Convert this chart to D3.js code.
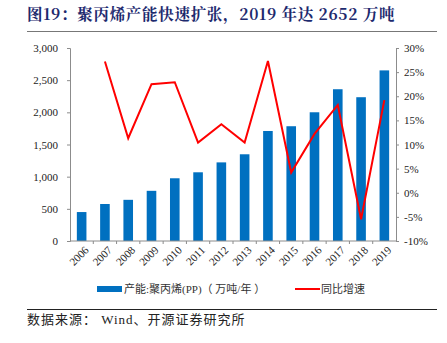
<!DOCTYPE html>
<html>
<head>
<meta charset="utf-8">
<script src="https://cdn.jsdelivr.net/npm/d3@7"></script>
<style>
  body { margin: 0; background: #fff; }
  svg { display: block; }
</style>
</head>
<body>
<svg width="447" height="343"></svg>
<script>
const years = ['2006', '2007', '2008', '2009', '2010', '2011', '2012', '2013', '2014', '2015', '2016', '2017', '2018', '2019']
const capacity = [450, 575, 640, 780, 975, 1068, 1222, 1348, 1710, 1784, 2001, 2359, 2235, 2652]
const growth = [null, 27.2, 11.3, 22.5, 22.9, 10.4, 14.2, 10.4, 27.3, 4.2, 12.2, 18.2, -5.5, 19.2]
const leftTicks = [0, 500, 1000, 1500, 2000, 2500, 3000]
const rightTicks = [-10, -5, 0, 5, 10, 15, 20, 25, 30]

const svg = d3.select('svg')
const serif = '"Times New Roman", "Liberation Serif", "Noto Sans CJK SC", serif'
const cjk = '"Noto Sans CJK SC", sans-serif'
const axisColor = '#8c8c8c'

const margin = { left: 70, right: 396, top: 48, bottom: 241 }

// title
svg.append('text')
  .attr('x', 27)
  .attr('y', 20)
  .attr('font-family', '"Noto Serif CJK SC", "Noto Sans CJK SC", serif')
  .attr('font-weight', 'bold')
  .attr('font-size', 15.5)
  .attr('letter-spacing', 0.7)
  .attr('fill', '#1d2a6e')
  .text('图19：聚丙烯产能快速扩张，2019 年达 2652 万吨')

svg.append('line')
  .attr('x1', 27).attr('x2', 437)
  .attr('y1', 31.5).attr('y2', 31.5)
  .attr('stroke', '#777')
  .attr('stroke-width', 1.2)

const xStep = d3.scalePoint()
  .domain(years)
  .range([margin.left, margin.right])
  .padding(0.5)

const yLeft = d3.scaleLinear()
  .domain([0, 3000])
  .range([margin.bottom, margin.top])

const yRight = d3.scaleLinear()
  .domain([-10, 30])
  .range([margin.bottom, margin.top])

// bars
svg.append('g')
  .selectAll('rect')
  .data(capacity)
  .join('rect')
  .attr('x', (d, i) => xStep(years[i]) - 4.8)
  .attr('width', 9.6)
  .attr('y', d => yLeft(d))
  .attr('height', d => yLeft(0) - yLeft(d))
  .attr('fill', '#0070c0')

// left axis
const leftAxis = svg.append('g')
  .attr('transform', `translate(${margin.left},0)`)
  .call(d3.axisLeft(yLeft).tickValues(leftTicks).tickSize(3).tickFormat(d3.format(',')))
leftAxis.select('.domain').attr('stroke', axisColor)
leftAxis.selectAll('.tick line').attr('stroke', axisColor)
leftAxis.selectAll('text')
  .attr('font-family', serif)
  .attr('font-size', 11)
  .attr('fill', '#222')
  .attr('x', -12)

// right axis
const rightAxis = svg.append('g')
  .attr('transform', `translate(${margin.right},0)`)
  .call(d3.axisRight(yRight).tickValues(rightTicks).tickSize(3).tickFormat(d => d + '%'))
rightAxis.select('.domain').attr('stroke', axisColor)
rightAxis.selectAll('.tick line').attr('stroke', axisColor)
rightAxis.selectAll('text')
  .attr('font-family', serif)
  .attr('font-size', 11)
  .attr('fill', '#222')
  .attr('x', 8)

// bottom axis
const step = xStep.step()
const xAxis = svg.append('g')
  .attr('transform', `translate(0,${margin.bottom})`)
xAxis.append('line')
  .attr('x1', margin.left).attr('x2', margin.right)
  .attr('stroke', axisColor)
xAxis.selectAll('.sep')
  .data(years.slice(1))
  .join('line')
  .attr('class', 'sep')
  .attr('x1', d => xStep(d) - step / 2)
  .attr('x2', d => xStep(d) - step / 2)
  .attr('y1', 0).attr('y2', 3)
  .attr('stroke', axisColor)
xAxis.selectAll('text')
  .data(years)
  .join('text')
  .attr('transform', d => `translate(${xStep(d) + 6},${8}) rotate(-45)`)
  .attr('text-anchor', 'end')
  .attr('dominant-baseline', 'middle')
  .attr('font-family', serif)
  .attr('font-size', 11)
  .attr('fill', '#222')
  .text(d => d)

// growth line
const line = d3.line()
  .defined(d => d != null)
  .x((d, i) => xStep(years[i]))
  .y(d => yRight(d))

svg.append('path')
  .datum(growth)
  .attr('d', line)
  .attr('fill', 'none')
  .attr('stroke', '#ff0000')
  .attr('stroke-width', 2)
  .attr('stroke-linejoin', 'miter')

// legend
const legend = svg.append('g')
legend.append('rect')
  .attr('x', 97).attr('y', 286)
  .attr('width', 25).attr('height', 6)
  .attr('fill', '#0070c0')
legend.append('text')
  .attr('x', 124).attr('y', 293)
  .attr('font-family', '"Liberation Serif", "Noto Sans CJK SC", serif')
  .attr('font-size', 11)
  .attr('fill', '#333')
  .attr('xml:space', 'preserve')
  .text('产能:聚丙烯(PP)（ 万吨/年 ）')
legend.append('line')
  .attr('x1', 295).attr('x2', 320)
  .attr('y1', 289).attr('y2', 289)
  .attr('stroke', '#ff0000')
  .attr('stroke-width', 2)
legend.append('text')
  .attr('x', 321).attr('y', 293)
  .attr('font-family', cjk)
  .attr('font-size', 11)
  .attr('fill', '#333')
  .text('同比增速')

// footer
svg.append('line')
  .attr('x1', 27).attr('x2', 437)
  .attr('y1', 309.5).attr('y2', 309.5)
  .attr('stroke', '#222')
  .attr('stroke-width', 1)

svg.append('text')
  .attr('x', 27).attr('y', 324)
  .attr('font-family', '"Liberation Serif", "Noto Sans CJK SC", serif')
  .attr('font-size', 13)
  .attr('letter-spacing', 1)
  .attr('fill', '#222')
  .attr('xml:space', 'preserve')
  .text('数据来源： Wind、开源证券研究所')
</script>
</body>
</html>
